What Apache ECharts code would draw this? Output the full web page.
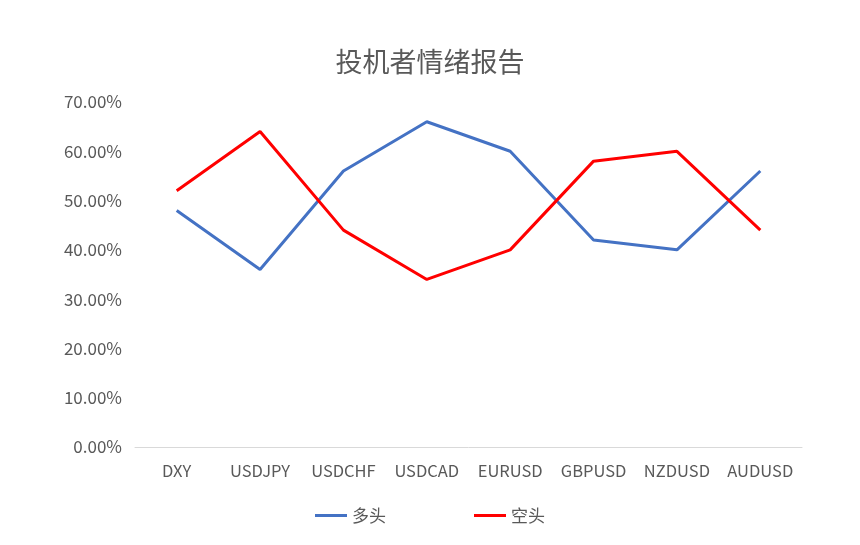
<!DOCTYPE html>
<html><head><meta charset="utf-8">
<script src="https://cdn.jsdelivr.net/npm/echarts@6/dist/echarts.min.js"></script>
<style>html,body{margin:0;padding:0;background:#fff}#c{width:860px;height:545px}</style>
</head><body><div id="c"></div>
<script>
const categories = ['DXY','USDJPY','USDCHF','USDCAD','EURUSD','GBPUSD','NZDUSD','AUDUSD'];
const longValues = [48,36,56,66,60,42,40,56];
const shortValues = [52,64,44,34,40,58,60,44];
const seriesNames = ['多头','空头'];
const chart = echarts.init(document.getElementById('c'));
const font = '"Microsoft YaHei","Noto Sans CJK SC","Liberation Sans",sans-serif';
chart.setOption({
  animation:false,
  title:{text:'投机者情绪报告',left:'center',top:43,textStyle:{fontFamily:font,fontSize:27,fontWeight:'normal',color:'#595959'}},
  legend:{bottom:16,left:'center',itemGap:88,itemWidth:32,itemHeight:3,icon:'rect',textStyle:{fontFamily:font,fontSize:17,color:'#595959'},data:seriesNames},
  grid:{left:135,right:58,top:102,bottom:98},
  xAxis:{type:'category',data:categories,boundaryGap:true,
    axisLine:{lineStyle:{color:'#d9d9d9'}},axisTick:{show:false},
    axisLabel:{interval:0,hideOverlap:false,fontFamily:font,fontSize:16.5,color:'#595959',margin:15}},
  yAxis:{type:'value',min:0,max:70,interval:10,
    axisLine:{show:false},axisTick:{show:false},splitLine:{show:false},
    axisLabel:{fontFamily:font,fontSize:17,color:'#595959',margin:13,formatter:v=>v.toFixed(2)+'%'}},
  series:[
    {name:seriesNames[0],type:'line',data:longValues,symbol:'none',lineStyle:{width:3,color:'#4472c4'},itemStyle:{color:'#4472c4'}},
    {name:seriesNames[1],type:'line',data:shortValues,symbol:'none',lineStyle:{width:3,color:'#ff0000'},itemStyle:{color:'#ff0000'}}
  ]
});
</script></body></html>
